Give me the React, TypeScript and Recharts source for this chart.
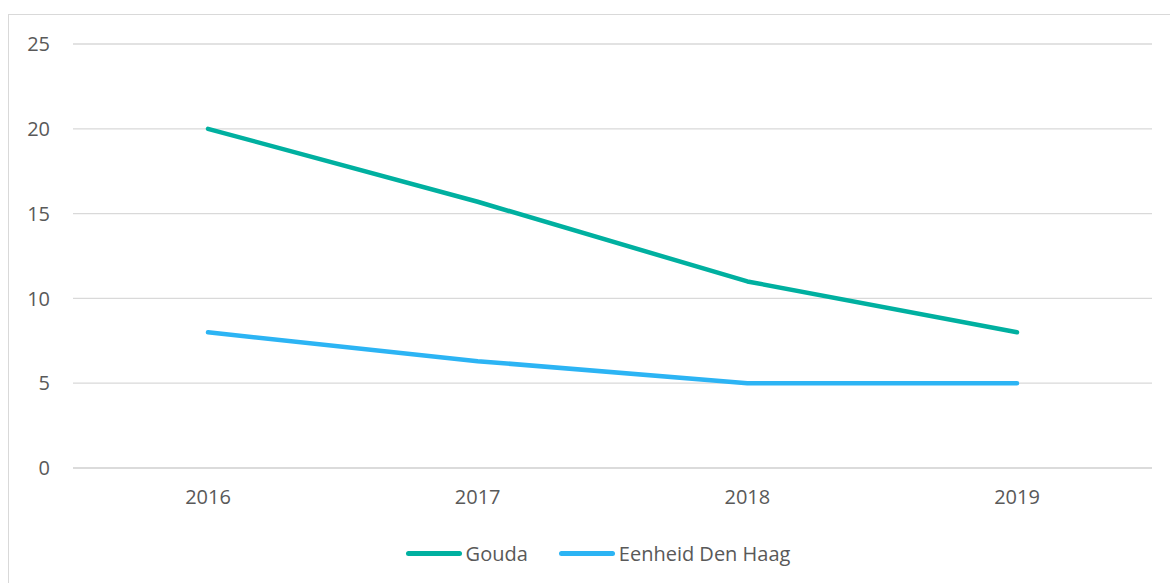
import { LineChart, Line, XAxis, YAxis, CartesianGrid, Legend } from 'recharts';

const years = ['2016', '2017', '2018', '2019'];
const gouda = [20, 15.7, 11, 8];
const denHaag = [8, 6.3, 5, 5];
const yTicks = [0, 5, 10, 15, 20, 25];

const SERIES = [
    { key: 'gouda', name: 'Gouda', color: '#00B0A0' },
    { key: 'denHaag', name: 'Eenheid Den Haag', color: '#2CB4F4' },
];

const FONT = '"Open Sans", "Noto Sans", sans-serif';
const TEXT = '#595959';
const GRID = '#d9d9d9';

const data = years.map((year, i) => ({ year, gouda: gouda[i], denHaag: denHaag[i] }));

function ChartLegend() {
    return (
        <div
            style={{
                height: 30,
                display: 'flex',
                justifyContent: 'center',
                alignItems: 'center',
                paddingLeft: 26,
                fontFamily: FONT,
                fontSize: 20,
                color: TEXT,
            }}
        >
            {SERIES.map((s, i) => (
                <div key={s.key} style={{ display: 'flex', alignItems: 'center', marginLeft: i ? 31 : 0 }}>
                    <span
                        style={{
                            display: 'inline-block',
                            width: 56,
                            height: 5,
                            borderRadius: 3,
                            backgroundColor: s.color,
                        }}
                    />
                    <span style={{ marginLeft: 4 }}>{s.name}</span>
                </div>
            ))}
        </div>
    );
}

export default function App() {
    return (
        <div
            style={{
                position: 'absolute',
                top: 0,
                left: 0,
                width: 1170,
                height: 583,
                overflow: 'hidden',
                background: '#fff',
                fontFamily: FONT,
            }}
        >
            {/* chart frame, runs off the right and bottom edge */}
            <div
                style={{
                    position: 'absolute',
                    left: 8,
                    top: 14,
                    width: 1200,
                    height: 620,
                    border: `1px solid ${GRID}`,
                }}
            />
            <LineChart
                width={1170}
                height={583}
                data={data}
                margin={{ top: 44, right: 18, left: 0, bottom: 15 }}
                style={{ position: 'absolute', top: 0, left: 0 }}
            >
                <CartesianGrid vertical={false} stroke={GRID} strokeWidth={1.3} />
                <XAxis
                    dataKey="year"
                    height={70}
                    padding={{ left: 135, right: 135 }}
                    axisLine={{ stroke: GRID, strokeWidth: 1.3 }}
                    tickLine={false}
                    tickSize={0}
                    tickMargin={22}
                    tick={{ fill: TEXT, fontSize: 20, fontFamily: FONT }}
                />
                <YAxis
                    width={73}
                    domain={[0, 25]}
                    ticks={yTicks}
                    axisLine={false}
                    tickLine={false}
                    tickSize={0}
                    tickMargin={23}
                    tick={{ fill: TEXT, fontSize: 20, fontFamily: FONT }}
                />
                {SERIES.map((s) => (
                    <Line
                        key={s.key}
                        type="linear"
                        dataKey={s.key}
                        name={s.name}
                        stroke={s.color}
                        strokeWidth={4.5}
                        strokeLinecap="round"
                        strokeLinejoin="round"
                        dot={false}
                        activeDot={false}
                        isAnimationActive={false}
                    />
                ))}
                <Legend
                    verticalAlign="bottom"
                    height={30}
                    wrapperStyle={{ left: 0, width: 1170 }}
                    content={() => <ChartLegend />}
                />
            </LineChart>
        </div>
    );
}
